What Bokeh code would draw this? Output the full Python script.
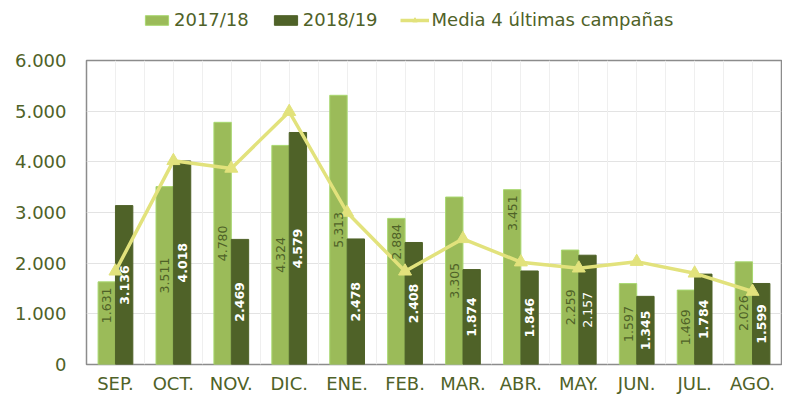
from bokeh.plotting import figure
from bokeh.layouts import column
from bokeh.models import (Legend, LegendItem, FixedTicker, Grid, ColumnDataSource, Range1d)
from bokeh.core.properties import value
from bokeh.embed import file_html
from bokeh.resources import INLINE
import math

months = ["SEP.", "OCT.", "NOV.", "DIC.", "ENE.", "FEB.", "MAR.", "ABR.", "MAY.", "JUN.", "JUL.", "AGO."]
s1718 = [1631, 3511, 4780, 4324, 5313, 2884, 3305, 3451, 2259, 1597, 1469, 2026]
s1819 = [3136, 4018, 2469, 4579, 2478, 2408, 1874, 1846, 2157, 1345, 1784, 1599]
media = [1840, 4020, 3870, 4990, 3000, 1840, 2480, 2020, 1900, 2030, 1800, 1440]
y_ticks = [0, 1000, 2000, 3000, 4000, 5000, 6000]
y_tick_labels = ["0", "1.000", "2.000", "3.000", "4.000", "5.000", "6.000"]
series_names = ["2017/18", "2018/19", "Media 4 últimas campañas"]
# label placement for 2017/18 labels: "c" centered, "e" inside end
pos1718 = ["e", "c", "c", "c", "c", "e", "c", "e", "c", "c", "c", "c"]
bold1819 = [True, True, True, True, True, True, True, True, False, True, True, True]

LIGHT = "#9BBB59"
LIGHT_EDGE = "#A9D870"
DARK = "#4F6228"
LINE = "#E2E27C"
TXT = "#4F6228"
FONT = "DejaVu Sans"
NAN = float("nan")

def fmt(v):
    return f"{v:,}".replace(",", ".")

n = len(months)
xc = [i + 0.5 for i in range(n)]
bw = 0.3

W = 782
LEG_H = 38
MAIN_H = 358

# ---------------- main chart ----------------
p = figure(width=W, height=MAIN_H, output_backend="svg", toolbar_location=None,
           x_range=Range1d(0, n), y_range=Range1d(0, 6000),
           min_border_left=86, min_border_right=1, min_border_top=22, min_border_bottom=30)
p.background_fill_color = "white"
p.border_fill_color = "white"
p.outline_line_color = "#8C8C8C"
p.outline_line_width = 1.5

p.xgrid.visible = False
p.ygrid.ticker = FixedTicker(ticks=y_ticks)
p.ygrid.grid_line_color = "#E3E3E3"
p.ygrid.grid_line_width = 1
vgrid = Grid(dimension=0, ticker=FixedTicker(ticks=[i * 0.5 for i in range(1, 2 * n)]),
             grid_line_color="#EFEFEF", grid_line_width=1)
p.add_layout(vgrid)

src = ColumnDataSource(dict(
    x1=[x - bw / 2 for x in xc], x2=[x + bw / 2 for x in xc],
    a=s1718, b=s1819))

p.vbar(x="x1", top="a", width=bw, bottom=0, source=src,
       fill_color=LIGHT, line_color=LIGHT_EDGE, line_width=1)
p.vbar(x="x2", top="b", width=bw, bottom=0, source=src,
       fill_color=DARK, line_color=DARK, line_width=1)

p.line(xc, media, line_color=LINE, line_width=3.5)
p.scatter(xc, media, marker="triangle", size=13, fill_color=LINE, line_color=LINE)

lx, ly, lt, la = [], [], [], []
for i, v in enumerate(s1718):
    lx.append(xc[i] - bw / 2)
    lt.append(fmt(v))
    if pos1718[i] == "e":
        ly.append(v - 110)
        la.append("right")
    else:
        ly.append(v / 2)
        la.append("center")
p.text(x=lx, y=ly, text=lt, angle=math.pi / 2, text_align=la, text_baseline="middle",
       text_font=value(FONT), text_font_size="12.5px", text_color=TXT)

for boldflag in (True, False):
    idx = [i for i in range(n) if bold1819[i] == boldflag]
    p.text(x=[xc[i] + bw / 2 for i in idx], y=[s1819[i] / 2 for i in idx],
           text=[fmt(s1819[i]) for i in idx], angle=math.pi / 2,
           text_align="center", text_baseline="middle",
           text_font=value(FONT), text_font_size="12.5px", text_color="white",
           text_font_style="bold" if boldflag else "normal")

p.xaxis.ticker = FixedTicker(ticks=xc)
p.xaxis.major_label_overrides = {x: m for x, m in zip(xc, months)}
p.yaxis.ticker = FixedTicker(ticks=y_ticks)
p.yaxis.major_label_overrides = {t: l for t, l in zip(y_ticks, y_tick_labels)}
for ax in (p.xaxis, p.yaxis):
    ax.axis_line_color = None
    ax.major_tick_line_color = None
    ax.minor_tick_line_color = None
    ax.major_tick_in = 0
    ax.major_tick_out = 0
    ax.minor_tick_in = 0
    ax.minor_tick_out = 0
    ax.major_label_text_font = FONT
    ax.major_label_text_font_size = "18px"
    ax.major_label_text_color = TXT
p.yaxis.major_label_standoff = 20
p.xaxis.major_label_standoff = 8

# ---------------- legend strip ----------------
lg = figure(width=W, height=LEG_H, output_backend="svg", toolbar_location=None,
            x_range=Range1d(0, 1), y_range=Range1d(0, 1),
            min_border_left=0, min_border_right=0, min_border_top=0, min_border_bottom=0)
lg.axis.visible = False
lg.grid.visible = False
lg.outline_line_color = None
lg.background_fill_color = "white"
lg.border_fill_color = "white"
# proxy renderers with no drawable data, used only for the legend swatches
e1 = lg.vbar(x=[NAN], top=[NAN], width=0.1, fill_color=LIGHT, line_color=LIGHT_EDGE)
e2 = lg.vbar(x=[NAN], top=[NAN], width=0.1, fill_color=DARK, line_color=DARK)
e3 = lg.line(x=[NAN], y=[NAN], line_color=LINE, line_width=3.5)
e4 = lg.scatter(x=[NAN], y=[NAN], marker="triangle", size=11, fill_color=LINE, line_color=LINE)

legend = Legend(items=[
    LegendItem(label=series_names[0], renderers=[e1]),
    LegendItem(label=series_names[1], renderers=[e2]),
    LegendItem(label=series_names[2], renderers=[e3, e4]),
], location=(56, 8), orientation="horizontal",
    label_text_font=FONT, label_text_font_size="18px", label_text_color=TXT,
    glyph_width=29, glyph_height=12, spacing=22, label_standoff=3, padding=0, margin=0,
    border_line_color=None, background_fill_alpha=0)
lg.add_layout(legend, "center")

layout = column(lg, p, spacing=0)
open("out.html", "w").write(file_html(layout, INLINE))
